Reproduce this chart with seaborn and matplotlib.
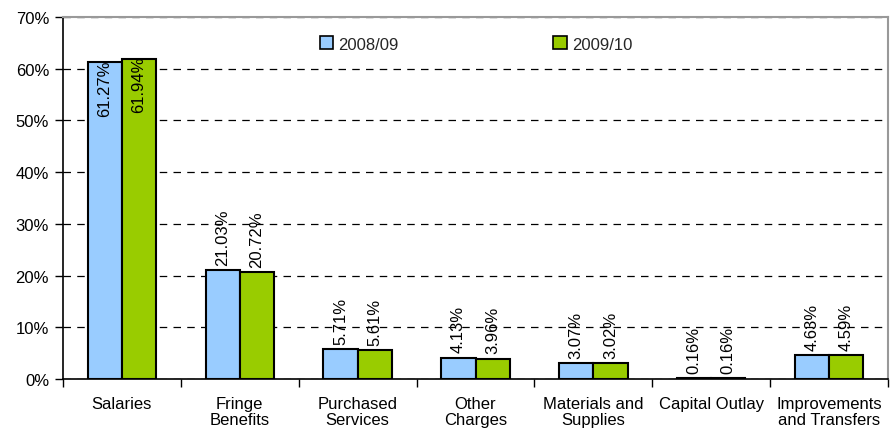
import matplotlib
matplotlib.use("Agg")
import matplotlib.pyplot as plt
import seaborn as sns
import pandas as pd
import numpy as np
from matplotlib.ticker import FixedLocator, PercentFormatter

categories = ["Salaries", "Fringe\nBenefits", "Purchased\nServices", "Other\nCharges",
              "Materials and\nSupplies", "Capital Outlay", "Improvements\nand Transfers"]
series_names = ["2008/09", "2009/10"]
values_0809 = [61.27, 21.03, 5.71, 4.13, 3.07, 0.16, 4.63]
values_0910 = [61.94, 20.72, 5.61, 3.96, 3.02, 0.16, 4.59]
colors = ["#99CCFF", "#99CC00"]

df = pd.DataFrame({
    "category": categories * 2,
    "year": [series_names[0]] * len(categories) + [series_names[1]] * len(categories),
    "value": values_0809 + values_0910,
})

sns.set_theme(style="white")
plt.rcParams["font.family"] = ["Liberation Sans", "DejaVu Sans"]

fig = plt.figure(figsize=(8.92, 4.31), dpi=100)
ax = fig.add_axes([63 / 892, 1 - 380 / 431, (888 - 63) / 892, (380 - 18) / 431])

sns.barplot(data=df, x="category", y="value", hue="year", palette=colors,
            width=0.58, edgecolor="black", linewidth=1.5, ax=ax, legend=True,
            saturation=1)

ax.set_xlim(-0.5, len(categories) - 0.5)
ax.set_ylim(0, 70)
ax.set_yticks(np.arange(0, 71, 10))
ax.yaxis.set_major_formatter(PercentFormatter(decimals=0))
ax.yaxis.grid(True, linestyle=(0, (6, 5)), color="black", linewidth=0.9)
ax.set_axisbelow(True)
ax.set_xlabel("")
ax.set_ylabel("")

# ticks between categories
ax.set_xticks(range(len(categories)))
ax.set_xticklabels(categories, fontsize=12, va="top", linespacing=1.1)
ax.tick_params(axis="x", which="major", length=0, pad=12)
ax.xaxis.set_minor_locator(FixedLocator(np.arange(-0.5, len(categories), 1.0)))
ax.tick_params(axis="x", which="minor", bottom=True, length=6, width=1, color="black", direction="out")
ax.tick_params(axis="y", left=True, length=6, width=1, color="black", direction="out", labelsize=12, pad=4)
for lbl in ax.get_yticklabels():
    lbl.set_color("black")
for lbl in ax.get_xticklabels():
    lbl.set_color("black")

for side in ["left", "bottom"]:
    ax.spines[side].set_color("black")
    ax.spines[side].set_linewidth(1.2)
for side in ["top", "right"]:
    ax.spines[side].set_visible(True)
    ax.spines[side].set_color("#999999")
    ax.spines[side].set_linewidth(1.5)

# value labels
for container, vals in zip(ax.containers, [values_0809, values_0910]):
    for bar, v in zip(container, vals):
        xc = bar.get_x() + bar.get_width() / 2
        txt = f"{v:.2f}%"
        if v > 50:
            ax.text(xc, v + 0.6, txt, rotation=90, ha="center", va="top", fontsize=12, color="black")
        else:
            ax.text(xc, v + 1.0, txt, rotation=90, ha="center", va="bottom", fontsize=12, color="black")

leg = ax.legend(loc="upper left", bbox_to_anchor=(0.303, 0.965), ncol=2, frameon=False,
                fontsize=12, handlelength=0.8, handleheight=0.8, handletextpad=0.3,
                columnspacing=9.3, borderaxespad=0)
for h in leg.legend_handles:
    h.set_edgecolor("black")
    h.set_linewidth(1.2)

fig.savefig("out.png", dpi=100)
